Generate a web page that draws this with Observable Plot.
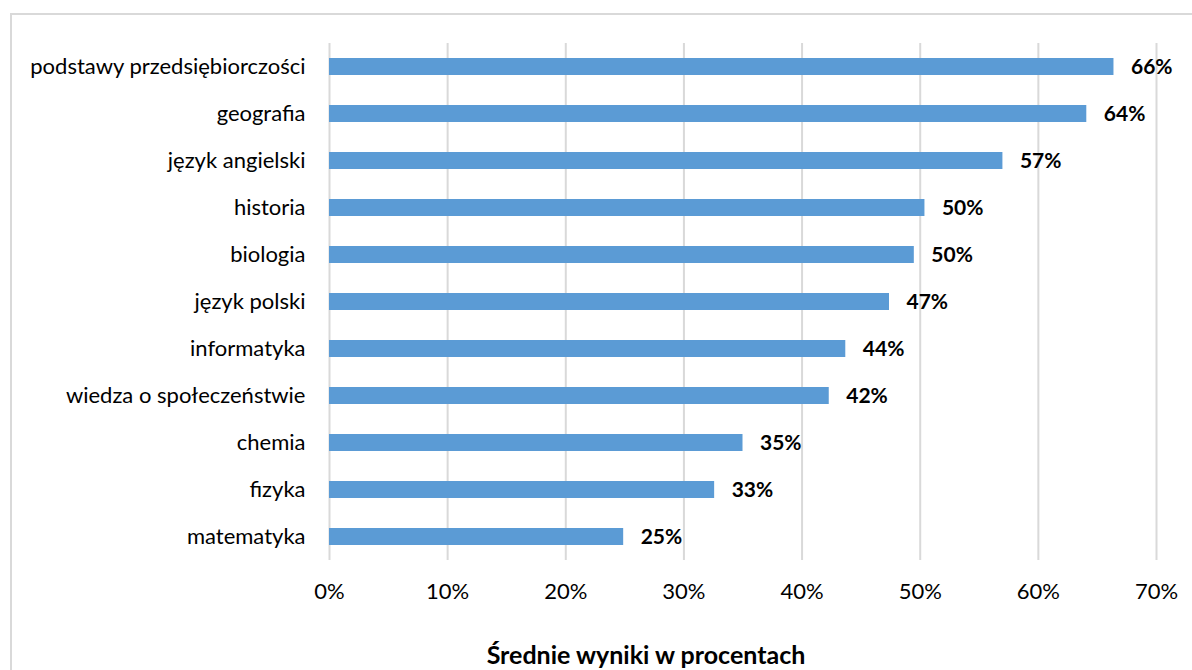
<!DOCTYPE html>
<html>
<head>
<meta charset="utf-8">
<script src="https://cdn.jsdelivr.net/npm/d3@7"></script>
<script src="https://cdn.jsdelivr.net/npm/@observablehq/plot@0.6"></script>
<style>
  html, body { margin: 0; padding: 0; background: #fff; }
  body { width: 1192px; height: 670px; position: relative; overflow: hidden; font-family: Lato, "Open Sans", sans-serif; }
  #frame { position: absolute; left: 10px; top: 13px; width: 1300px; height: 800px; border: 2px solid #d9d9d9; box-sizing: border-box; }
  #chart { position: absolute; left: 0; top: 0; }
  #title { position: absolute; left: 0; width: 1292px; top: 642px; text-align: center; font-weight: bold; font-size: 25px; color: #000; line-height: 1; }
</style>
</head>
<body>
<div id="frame"></div>
<div id="chart"></div>
<div id="title">Średnie wyniki w procentach</div>
<script>
const subjects = [
  "podstawy przedsiębiorczości",
  "geografia",
  "język angielski",
  "historia",
  "biologia",
  "język polski",
  "informatyka",
  "wiedza o społeczeństwie",
  "chemia",
  "fizyka",
  "matematyka"
];
const values = [66.4, 64.1, 57.0, 50.4, 49.5, 47.4, 43.7, 42.3, 35.0, 32.6, 24.9];
const xTicks = [0, 10, 20, 30, 40, 50, 60, 70];

const data = subjects.map((s, i) => ({subject: s, value: values[i]}));

const chart = Plot.plot({
  width: 1192,
  height: 620,
  marginLeft: 329,
  marginRight: 36,
  marginTop: 43,
  marginBottom: 60,
  style: {fontFamily: "Lato, 'Open Sans', sans-serif", fontSize: "22px", color: "#000", background: "transparent"},
  x: {domain: [0, 70], ticks: xTicks, label: null},
  y: {domain: subjects, paddingInner: 0.64, paddingOuter: 0.32, label: null},
  marks: [
    Plot.ruleX(xTicks, {stroke: "#d9d9d9", strokeWidth: 2, strokeOpacity: 1}),
    Plot.barX(data, {x: "value", y: "subject", fill: "#5b9bd5"}),
    Plot.text(data, {x: "value", y: "subject", text: d => Math.round(d.value) + "%", textAnchor: "start", dx: 17, fontWeight: "bold", fontSize: 21, fill: "#000"}),
    Plot.axisX({ticks: xTicks, tickFormat: d => d + "%", tickSize: 0, tickPadding: 23, fontSize: 22, label: null}),
    Plot.axisY({tickSize: 0, tickPadding: 24, fontSize: 22, label: null})
  ]
});
document.getElementById("chart").appendChild(chart);
</script>
</body>
</html>
